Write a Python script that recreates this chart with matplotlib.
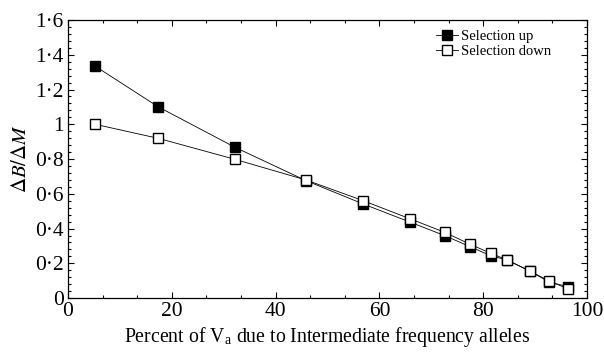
import matplotlib.pyplot as plt
from matplotlib.ticker import AutoMinorLocator, FuncFormatter, MultipleLocator

plt.rcParams['font.family'] = ['Liberation Serif', 'DejaVu Serif']
plt.rcParams['mathtext.fontset'] = 'stix'

# Data
pct_up = [5.2, 17.4, 32.2, 45.9, 56.9, 65.9, 72.6, 77.5, 81.5, 84.6, 89.0, 92.7, 96.4]
ratio_up = [1.335, 1.10, 0.867, 0.675, 0.541, 0.437, 0.359, 0.295, 0.243, 0.219, 0.155, 0.092, 0.065]
pct_down = [5.2, 17.4, 32.2, 45.9, 56.9, 65.9, 72.6, 77.5, 81.5, 84.6, 89.0, 92.7, 96.4]
ratio_down = [1.0, 0.919, 0.798, 0.679, 0.560, 0.456, 0.378, 0.309, 0.257, 0.219, 0.155, 0.098, 0.052]

fig = plt.figure(figsize=(6.04, 3.54), dpi=100)
ax = fig.add_axes([0.1126, 0.158, 0.8594, 0.7855])

ax.plot(pct_up, ratio_up, color='black', lw=0.6, marker='s', ms=7.5,
        mfc='black', mec='black', mew=1.0, label='Selection up')
ax.plot(pct_down, ratio_down, color='black', lw=0.6, marker='s', ms=7.5,
        mfc='white', mec='black', mew=1.0, label='Selection down')

ax.set_xlim(0, 100)
ax.set_ylim(0, 1.6)
ax.xaxis.set_major_locator(MultipleLocator(20))
ax.xaxis.set_minor_locator(AutoMinorLocator(3))
ax.yaxis.set_major_locator(MultipleLocator(0.2))
ax.yaxis.set_minor_locator(AutoMinorLocator(5))


def fmt(v, pos):
    s = ('%.1f' % v).rstrip('0').rstrip('.')
    return s.replace('.', '\u00b7')


ax.yaxis.set_major_formatter(FuncFormatter(fmt))
ax.tick_params(which='both', direction='in', top=True, right=True, labelsize=15.5, width=0.8)
ax.tick_params(which='major', length=4, pad=3)
ax.tick_params(which='minor', length=2.5)
for s in ax.spines.values():
    s.set_linewidth(0.9)

ax.set_xlabel('Percent of V$_\\mathregular{a}$ due to Intermediate frequency alleles', fontsize=14.2, labelpad=3)
ax.set_ylabel('$\\Delta B/\\Delta M$', fontsize=15, labelpad=3)

ax.legend(loc='upper left', bbox_to_anchor=(0.69, 1.0), frameon=False, fontsize=10.5,
          handlelength=1.5, handletextpad=0.2, labelspacing=0.1, borderpad=0.2)

fig.savefig('out.png', dpi=100)
